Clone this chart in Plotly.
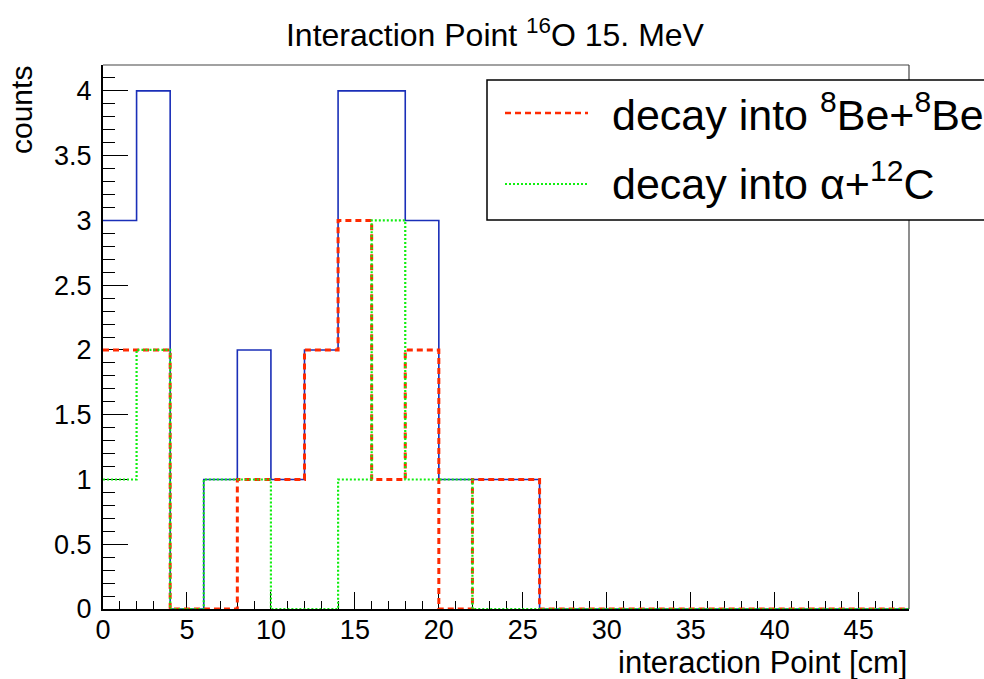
import plotly.graph_objects as go

# ---- data (bin width 2 cm, 0..48) ----
bin_edges = list(range(0, 50, 2))
counts_total = [3, 4, 0, 1, 2, 1, 2, 4, 4, 3, 1, 1, 1, 0, 0, 0, 0, 0, 0, 0, 0, 0, 0, 0]
counts_8be8be = [2, 2, 0, 0, 1, 1, 2, 3, 1, 2, 0, 1, 1, 0, 0, 0, 0, 0, 0, 0, 0, 0, 0, 0]
counts_alpha12c = [1, 2, 0, 1, 1, 0, 0, 1, 3, 1, 1, 0, 0, 0, 0, 0, 0, 0, 0, 0, 0, 0, 0, 0]

title_text = "Interaction Point <sup>16</sup>O 15. MeV"
legend_labels = ["decay into <sup>8</sup>Be+<sup>8</sup>Be", "decay into \u03b1+<sup>12</sup>C"]

FONT = "Liberation Sans, Arial, Helvetica, sans-serif"
W, H = 984, 679
L, R, T, B = 103, 75, 65, 70
PW, PH = W - L - R, H - T - B


def px_x(p):
    return (p - L) / PW


def px_y(p):
    return (H - B - p) / PH


def step(vals):
    return vals + [vals[-1]]


fig = go.Figure()
fig.add_trace(go.Scatter(x=bin_edges, y=step(counts_total), mode="lines", line_shape="hv",
                         line=dict(color="#1a2fb8", width=1.6), showlegend=False))
fig.add_trace(go.Scatter(x=bin_edges, y=step(counts_8be8be), mode="lines", line_shape="hv",
                         line=dict(color="#ff2a00", width=3, dash="6px,4px"), showlegend=False))
fig.add_trace(go.Scatter(x=bin_edges, y=step(counts_alpha12c), mode="lines", line_shape="hv",
                         line=dict(color="#11ee11", width=2.2, dash="2px,2px"), showlegend=False))

fig.update_layout(
    width=W, height=H,
    margin=dict(l=L, r=R, t=T, b=B, pad=0),
    paper_bgcolor="white", plot_bgcolor="white",
    font=dict(family=FONT, color="black"),
    title=dict(text=title_text, x=0.503, xanchor="center", y=1 - 35 / H, yanchor="middle",
               font=dict(size=32, family=FONT, color="black")),
    showlegend=False,
)
fig.update_xaxes(range=[0, 48], showgrid=False, zeroline=False,
                 showline=True, linecolor="black", linewidth=2, layer="below traces",
                 ticks="inside", ticklen=17, tickwidth=1.3, tickcolor="black",
                 dtick=5, tick0=0, tickfont=dict(size=27, family=FONT, color="black"),
                 minor=dict(ticks="inside", ticklen=8, dtick=1, tickwidth=1.3, tickcolor="black"),
                 ticklabelstandoff=-4)
fig.update_yaxes(range=[0, 4.2], showgrid=False, zeroline=False,
                 showline=True, linecolor="black", linewidth=2, layer="below traces",
                 ticks="inside", ticklen=25, tickwidth=1.3, tickcolor="black",
                 dtick=0.5, tick0=0, tickfont=dict(size=27, family=FONT, color="black"),
                 minor=dict(ticks="inside", ticklen=12, dtick=0.1, tickwidth=1.3, tickcolor="black"),
                 ticklabelstandoff=4)

shapes = []
# frame top/right
shapes.append(dict(type="line", xref="paper", yref="paper", x0=0, x1=1, y0=1, y1=1,
                   line=dict(color="#444", width=1.2)))
shapes.append(dict(type="line", xref="paper", yref="paper", x0=1, x1=1, y0=0, y1=1,
                   line=dict(color="#444", width=1.2)))
# legend box
shapes.append(dict(type="rect", xref="paper", yref="paper",
                   x0=px_x(487), x1=px_x(1000), y0=px_y(220), y1=px_y(80),
                   line=dict(color="black", width=1.5), fillcolor="white", layer="above"))
shapes.append(dict(type="line", xref="paper", yref="paper", x0=px_x(505), x1=px_x(588),
                   y0=px_y(113), y1=px_y(113), line=dict(color="#ff2a00", width=2.5, dash="6px,4px")))
shapes.append(dict(type="line", xref="paper", yref="paper", x0=px_x(505), x1=px_x(588),
                   y0=px_y(184), y1=px_y(184), line=dict(color="#11ee11", width=2.2, dash="2px,2px")))
fig.update_layout(shapes=shapes)

ann = []
ann.append(dict(text=legend_labels[0], xref="paper", yref="paper", x=px_x(610), y=px_y(112),
                xanchor="left", yanchor="middle", showarrow=False,
                font=dict(size=43, family=FONT, color="black")))
ann.append(dict(text=legend_labels[1], xref="paper", yref="paper", x=px_x(610), y=px_y(181),
                xanchor="left", yanchor="middle", showarrow=False,
                font=dict(size=43, family=FONT, color="black")))
ann.append(dict(text="counts", xref="paper", yref="paper", x=px_x(21), y=px_y(110),
                xanchor="center", yanchor="middle", textangle=-90, showarrow=False,
                font=dict(size=30, family=FONT, color="black")))
ann.append(dict(text="interaction Point [cm]", xref="paper", yref="paper", x=1.0, y=px_y(662),
                xanchor="right", yanchor="middle", showarrow=False,
                font=dict(size=31, family=FONT, color="black")))
fig.update_layout(annotations=ann)

fig.write_html("out.html")
